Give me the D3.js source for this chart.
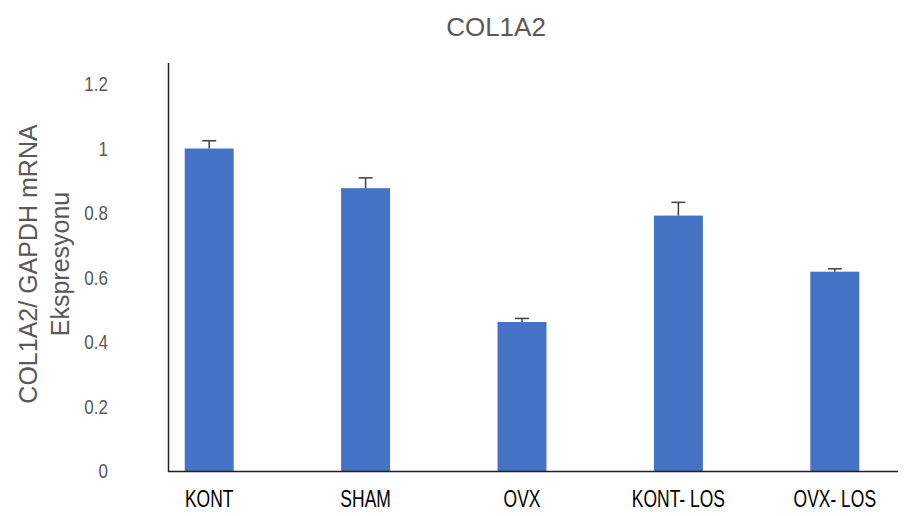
<!DOCTYPE html>
<html><head><meta charset="utf-8">
<script src="https://cdn.jsdelivr.net/npm/d3@7"></script>
<style>body{margin:0;background:#fff}</style>
</head><body>
<svg id="c" width="904" height="516"></svg>
<script>
const categories = ["KONT","SHAM","OVX","KONT- LOS","OVX- LOS"];
const values = [1.0, 0.877, 0.462, 0.792, 0.618];
const errors = [0.024, 0.032, 0.011, 0.041, 0.009];
const yTicks = [0, 0.2, 0.4, 0.6, 0.8, 1, 1.2];
const title = "COL1A2";
const yTitle = ["COL1A2/ GAPDH mRNA", "Ekspresyonu"];

const svg = d3.select("#c");
const y = d3.scaleLinear().domain([0, 1.2]).range([471, 84]);
const x = d3.scaleBand().domain(categories).range([131, 913]).paddingInner(0.687).paddingOuter(0.3435);
const gray = "#595959";
const sans = "'Liberation Sans',Arial,sans-serif";

svg.append("text").attr("x", 496).attr("y", 36).attr("text-anchor","middle")
  .attr("font-family",sans).attr("font-size",26).attr("fill",gray).text(title);

// bars
svg.selectAll("rect.bar").data(categories).join("rect").attr("class","bar")
  .attr("x", d => x(d)).attr("width", x.bandwidth())
  .attr("y", (d,i) => y(values[i])).attr("height", (d,i) => y(0) - y(values[i]))
  .attr("fill", "#4472C4");

// error bars
const eg = svg.append("g").attr("stroke","#404040").attr("stroke-width",1.5);
categories.forEach((d,i) => {
  const cx = x(d) + x.bandwidth()/2;
  eg.append("line").attr("x1",cx).attr("x2",cx).attr("y1",y(values[i])).attr("y2",y(values[i]+errors[i]));
  eg.append("line").attr("x1",cx-7).attr("x2",cx+7).attr("y1",y(values[i]+errors[i])).attr("y2",y(values[i]+errors[i]));
});

// axes lines
svg.append("line").attr("x1",168.5).attr("x2",168.5).attr("y1",63).attr("y2",472).attr("stroke","#222").attr("stroke-width",1.5);
svg.append("line").attr("x1",168).attr("x2",898).attr("y1",471.5).attr("y2",471.5).attr("stroke","#222").attr("stroke-width",1.5);

// y tick labels
svg.selectAll("g.yt").data(yTicks).join("g").attr("class","yt")
  .attr("transform", d => `translate(108,${y(d)}) scale(0.85,1)`)
  .append("text").attr("dy","0.35em").attr("text-anchor","end")
  .attr("font-family",sans).attr("font-size",20).attr("fill",gray).text(d => d);

// x labels
svg.selectAll("g.xt").data(categories).join("g").attr("class","xt")
  .attr("transform", d => `translate(${x(d) + x.bandwidth()/2},507) scale(0.76,1)`)
  .append("text").attr("text-anchor","middle")
  .attr("font-family",sans).attr("font-size",23).attr("fill","#000").text(d => d);

// y title
const yt = svg.append("text").attr("transform","translate(0,264) rotate(-90)")
  .attr("text-anchor","middle").attr("font-family",sans)
  .attr("font-size",25).attr("fill",gray);
yt.append("tspan").attr("x",0).attr("y",37).text(yTitle[0]);
yt.append("tspan").attr("x",0).attr("y",69).text(yTitle[1]);
</script>
</body></html>
